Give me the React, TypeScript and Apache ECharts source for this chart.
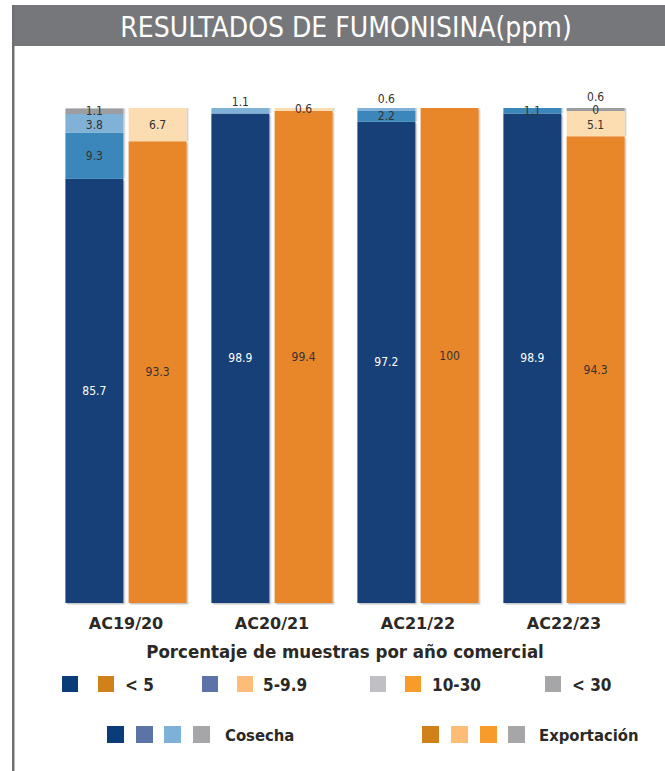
import React, { useEffect, useRef } from "react";
import * as echarts from "echarts";

const categories = ["AC19/20", "AC20/21", "AC21/22", "AC22/23"];

// Cosecha (harvest) stack, % of samples per range (ppm)
const cosechaLt5 = [85.7, 98.9, 97.2, 98.9];
const cosecha5to10 = [9.3, 0, 2.2, 1.1];
const cosecha10to30 = [3.8, 1.1, 0.6, 0];
const cosechaGt30 = [1.1, 0, 0, 0];

// Exportación stack
const exportLt5 = [93.3, 99.4, 100, 94.3];
const export5to10 = [6.7, 0.6, 0, 5.1];
const export10to30 = [0, 0, 0, 0];
const exportGt30 = [0, 0, 0, 0.6];

// legend labels
const rangeLabels = ["< 5", "5-9.9", "10-30", "< 30"];
const groupLabels = ["Cosecha", "Exportación"];

const NARROW = "'Liberation Sans Narrow', 'Arial Narrow', 'DejaVu Sans Condensed', sans-serif";
const DARK = "#2b2926";

export default function App() {
  const ref = useRef<HTMLDivElement>(null);
  useEffect(() => {
    if (!ref.current) return;
    const chart = echarts.init(ref.current, null, { renderer: "svg" });

    // label placement tweaks: labels drawn above the bar (series key -> category index -> distance)
    const above: Record<string, Record<number, number>> = {
      c10: { 1: 0, 2: 3 },
      eGt: { 3: 5 },
    };
    const forceZero: Record<string, number[]> = { e10: [3] };
    // vertical label nudges (series key -> category index -> px)
    const nudge: Record<string, Record<number, number>> = {
      c10: { 0: 2 },
      e5: { 3: 1.5 },
      e10: { 3: -0.5 },
    };

    const mk = (
      key: string,
      name: string,
      stack: string,
      values: number[],
      color: string,
      labelColor: string
    ) => ({
      type: "bar",
      name,
      stack,
      barWidth: 58,
      barGap: "9%",
      itemStyle: {
        color,
        shadowColor: "rgba(0,0,0,0.22)",
        shadowBlur: 1,
        shadowOffsetX: 1.5,
        shadowOffsetY: key.endsWith("Lt") ? 1.5 : 0,
      },
      data: values.map((v, i) => {
        const aboveDist = above[key] ? above[key][i] : undefined;
        const isAbove = aboveDist !== undefined;
        const isForced = (forceZero[key] || []).includes(i);
        const dy = nudge[key] && nudge[key][i] !== undefined ? nudge[key][i] : 0;
        return {
          value: v,
          label: {
            show: v > 0 || isForced,
            position: isAbove ? "top" : "inside",
            distance: isAbove ? aboveDist : 5,
            offset: [0, dy],
            color: isAbove ? "#333" : labelColor,
            fontSize: 12,
            fontFamily: NARROW,
            formatter: (p: any) => String(p.value),
          },
        };
      }),
    });

    const series = [
      mk("cLt", "c<5", "cosecha", cosechaLt5, "#133f77", "#ffffff"),
      mk("c5", "c5-9.9", "cosecha", cosecha5to10, "#3a87bb", "#333333"),
      mk("c10", "c10-30", "cosecha", cosecha10to30, "#80b2d8", "#333333"),
      mk("cGt", "c>30", "cosecha", cosechaGt30, "#9c9da0", "#333333"),
      mk("eLt", "e<5", "export", exportLt5, "#e8862a", "#333333"),
      mk("e5", "e5-9.9", "export", export5to10, "#fcdcb1", "#333333"),
      mk("e10", "e10-30", "export", export10to30, "#f9c48a", "#333333"),
      mk("eGt", "e>30", "export", exportGt30, "#9c9da0", "#333333"),
    ];

    const sq = (x: number, y: number, s: number, fill: string) => ({
      type: "rect",
      shape: { x, y, width: s, height: s },
      style: { fill },
    });
    const txt = (x: number, y: number, text: string, size: number) => ({
      type: "text",
      x,
      y,
      style: {
        text,
        fill: DARK,
        font: `bold ${size}px ${NARROW}`,
        textVerticalAlign: "middle",
      },
    });

    const r1 = 676;
    const r2 = 726;
    const graphic = [
      { type: "rect", shape: { x: 12, y: 5, width: 660, height: 41 }, style: { fill: "#76777b" } },
      { type: "rect", shape: { x: 12, y: 5, width: 2.5, height: 771 }, style: { fill: "#6f7074" } },
      {
        type: "text",
        x: 346,
        y: 27,
        style: {
          text: "RESULTADOS DE FUMONISINA(ppm)",
          fill: "#ffffff",
          font: `28px ${NARROW}`,
          textAlign: "center",
          textVerticalAlign: "middle",
        },
      },
      sq(62, r1, 16, "#0a3c7a"),
      sq(98, r1, 16, "#d0811a"),
      txt(125, r1 + 9, rangeLabels[0], 17),
      sq(202, r1, 16, "#5b73a6"),
      sq(237, r1, 16, "#fdbd77"),
      txt(263, r1 + 9, rangeLabels[1], 17),
      sq(370, r1, 16, "#c0c0c4"),
      sq(405, r1, 16, "#f79b2a"),
      txt(432, r1 + 9, rangeLabels[2], 17),
      sq(545, r1, 16, "#a6a6a9"),
      txt(572, r1 + 9, rangeLabels[3], 17),

      sq(107, r2, 17, "#0a3c7a"),
      sq(136, r2, 17, "#5b73a6"),
      sq(164, r2, 17, "#7eb1d7"),
      sq(193, r2, 17, "#a6a6a9"),
      txt(225, r2 + 9, groupLabels[0], 16.5),
      sq(422, r2, 17, "#d0811a"),
      sq(451, r2, 17, "#fdbd77"),
      sq(480, r2, 17, "#f79b2a"),
      sq(508, r2, 17, "#a6a6a9"),
      txt(539, r2 + 9, groupLabels[1], 16.5),
    ];

    chart.setOption({
      animation: false,
      backgroundColor: "#ffffff",
      grid: { left: 53, width: 584, top: 108, height: 495, containLabel: false },
      xAxis: {
        type: "category",
        data: categories,
        axisLine: { show: false },
        axisTick: { show: false },
        axisLabel: {
          margin: 12,
          fontSize: 16,
          fontWeight: "bold",
          color: DARK,
          fontFamily: "'DejaVu Sans', sans-serif",
        },
        name: "Porcentaje de muestras por año comercial",
        nameLocation: "middle",
        nameGap: 39,
        nameTextStyle: {
          fontSize: 18.5,
          fontWeight: "bold",
          color: DARK,
          fontFamily: NARROW,
        },
      },
      yAxis: {
        type: "value",
        min: 0,
        max: 100,
        show: false,
      },
      series,
      graphic,
    });
    return () => chart.dispose();
  }, []);
  return (
    <div
      ref={ref}
      style={{ position: "absolute", left: 0, top: 0, width: 665, height: 771 }}
    />
  );
}
